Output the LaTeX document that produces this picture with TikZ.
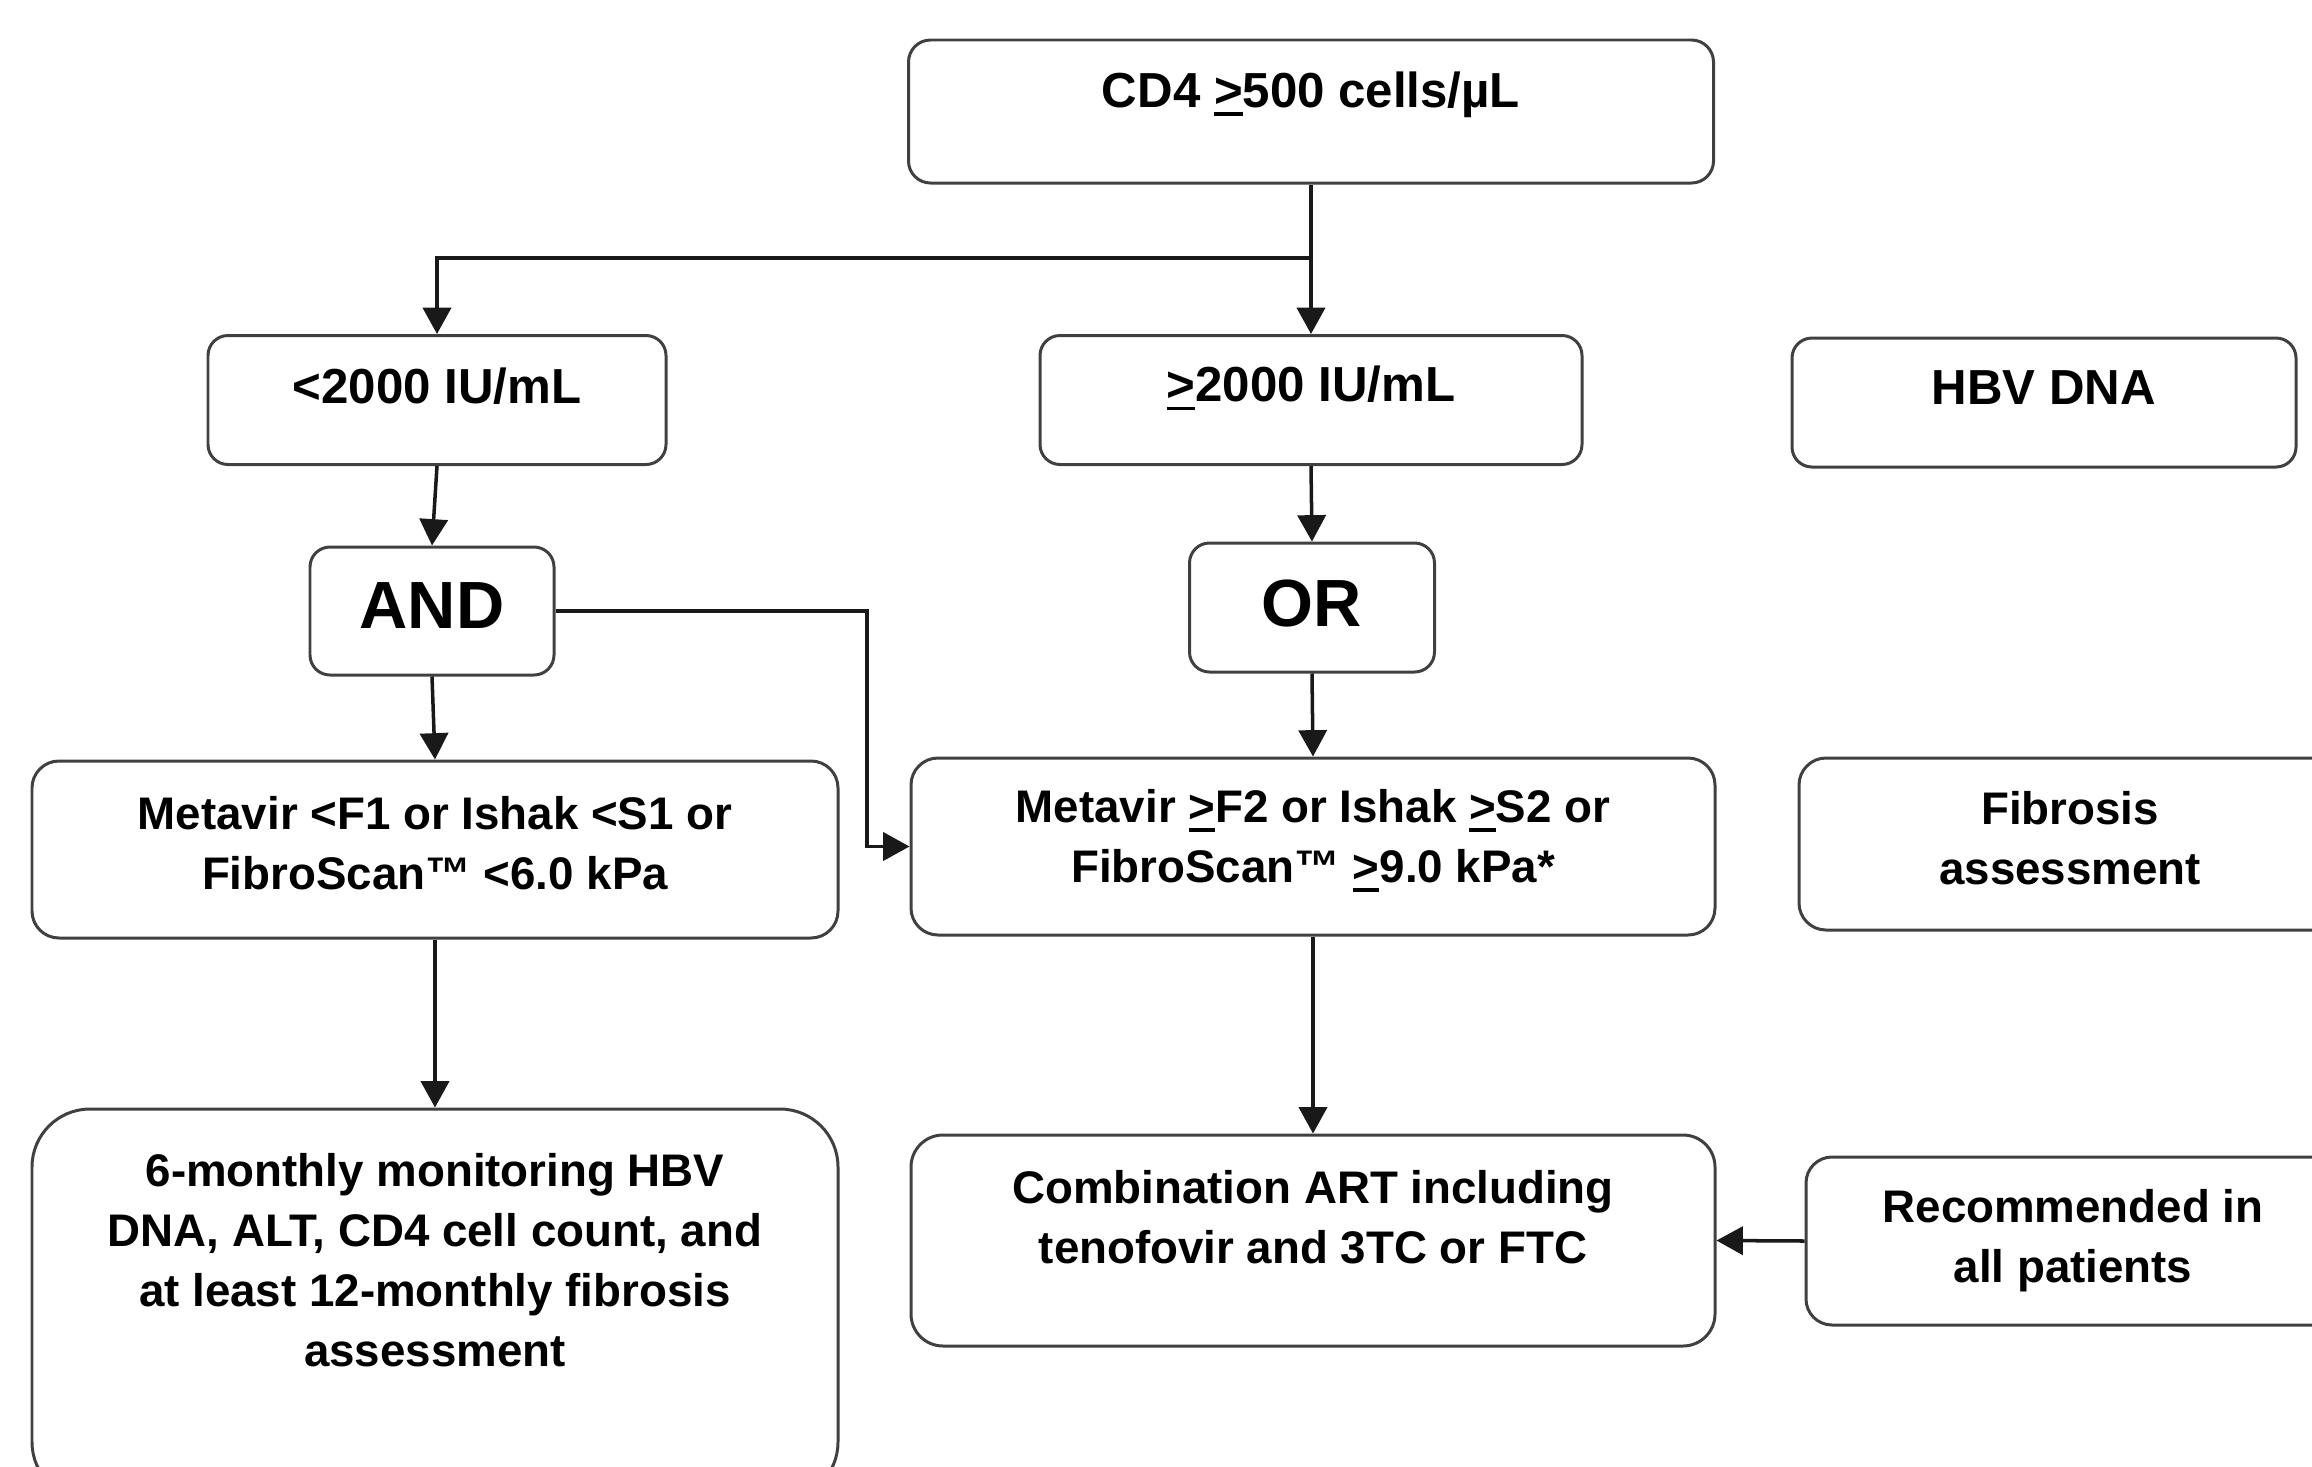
\documentclass[tikz,border=0pt]{standalone}
\usepackage{fontspec}
\setmainfont{Liberation Sans}
\usetikzlibrary{arrows.meta}
\newcommand{\uge}{\makebox[0pt][l]{\rule[-2.6pt]{0.58em}{1.1pt}}>}

\begin{document}
\begin{tikzpicture}[block/.style={rectangle, draw=black!75, line width=0.85pt, rounded corners=2mm},
  txt/.style={align=center, inner sep=0pt, font=\fontsize{13}{17.1}\selectfont\bfseries},
  head/.style={align=center, inner sep=0pt, font=\fontsize{14}{17.1}\selectfont\bfseries},
  gate/.style={inner sep=0pt, font=\fontsize{19}{22}\selectfont\bfseries},
  arr/.style={-{Triangle[length=7.5pt, width=8pt]}, line width=1pt, black!90}]
    \useasboundingbox (0,0) rectangle (23.12,-14.66);
    \clip (0,0) rectangle (23.12,-14.66);

    % boxes
    \node[block, minimum width=80.5mm, minimum height=14.3mm, rounded corners=2.2mm] (cd4) at (13.11,-1.115) {};
    \node[block, minimum width=45.8mm, minimum height=12.9mm] (lt2000) at (4.37,-4.0) {};
    \node[block, minimum width=54.2mm, minimum height=12.9mm] (ge2000) at (13.11,-4.0) {};
    \node[block, minimum width=50.4mm, minimum height=12.9mm] (hbv) at (20.44,-4.025) {};
    \node[block, minimum width=24.4mm, minimum height=12.8mm] (and) at (4.32,-6.11) {};
    \node[block, minimum width=24.5mm, minimum height=12.9mm] (or) at (13.12,-6.075) {};
    \node[block, minimum width=80.6mm, minimum height=17.7mm, rounded corners=2.7mm] (metlo) at (4.35,-8.495) {};
    \node[block, minimum width=80.4mm, minimum height=17.7mm, rounded corners=2.7mm] (methi) at (13.13,-8.465) {};
    \node[block, minimum width=54.2mm, minimum height=17.2mm, rounded corners=2.7mm] (fib) at (20.70,-8.44) {};
    \node[block, minimum width=80.6mm, minimum height=39.1mm, rounded corners=5.8mm] (mon) at (4.35,-13.045) {};
    \node[block, minimum width=80.4mm, minimum height=21.1mm, rounded corners=3.2mm] (comb) at (13.13,-12.405) {};
    \node[block, minimum width=53.4mm, minimum height=16.8mm, rounded corners=2.6mm] (rec) at (20.73,-12.41) {};

    % texts
    \node[head] (cd4t) at ([yshift=1.7mm]cd4.center) {CD4 \uge500 cells/µL};
    \node[head] (lt2000t) at ([yshift=1.4mm]lt2000.center) {<2000 IU/mL};
    \node[head] (ge2000t) at ([yshift=1.2mm]ge2000.center) {\uge2000 IU/mL};
    \node[head] (hbvt) at ([yshift=1.45mm]hbv.center) {HBV DNA};
    \node[gate] (andt) at ([yshift=0.5mm]and.center) {AND};
    \node[gate] (ort) at ([yshift=0.35mm]or.center) {OR};
    \node[txt] (metlot) at ([yshift=0.65mm]metlo.center) {Metavir <F1 or Ishak <S1 or\\FibroScan™ <6.0 kPa};
    \node[txt] (methit) at ([yshift=0.6mm]methi.center) {Metavir \uge F2 or Ishak \uge S2 or\\FibroScan™ \uge9.0 kPa*};
    \node[txt] (fibt) at ([yshift=0.6mm]fib.center) {Fibrosis\\assessment};
    \node[txt] (mont) at ([yshift=4.45mm]mon.center) {6-monthly monitoring HBV\\DNA, ALT, CD4 cell count, and\\at least 12-monthly fibrosis\\assessment};
    \node[txt] (combt) at ([yshift=2.35mm]comb.center) {Combination ART including\\tenofovir and 3TC or FTC};
    \node[txt] (rect) at (rec.center) {Recommended in\\all patients};

    % connectors
    \coordinate (split) at (13.11,-2.58);
    \coordinate (bend) at (8.67,-7);
    \draw[arr] (cd4.south) -- (ge2000.north);
    \draw[arr] (split) -| (lt2000.north);
    \draw[arr] (lt2000.south) -- (and.north);
    \draw[arr] (ge2000.south) -- (or.north);
    \draw[arr] (and.south) -- (metlo.north);
    \draw[arr] (or.south) -- (methi.north);
    \draw[arr] (and.east) -| (bend) |- (methi.west);
    \draw[arr] (metlo.south) -- (mon.north);
    \draw[arr] (methi.south) -- (comb.north);
    \draw[arr] (rec.west) -- (comb.east);
\end{tikzpicture}
\end{document}
